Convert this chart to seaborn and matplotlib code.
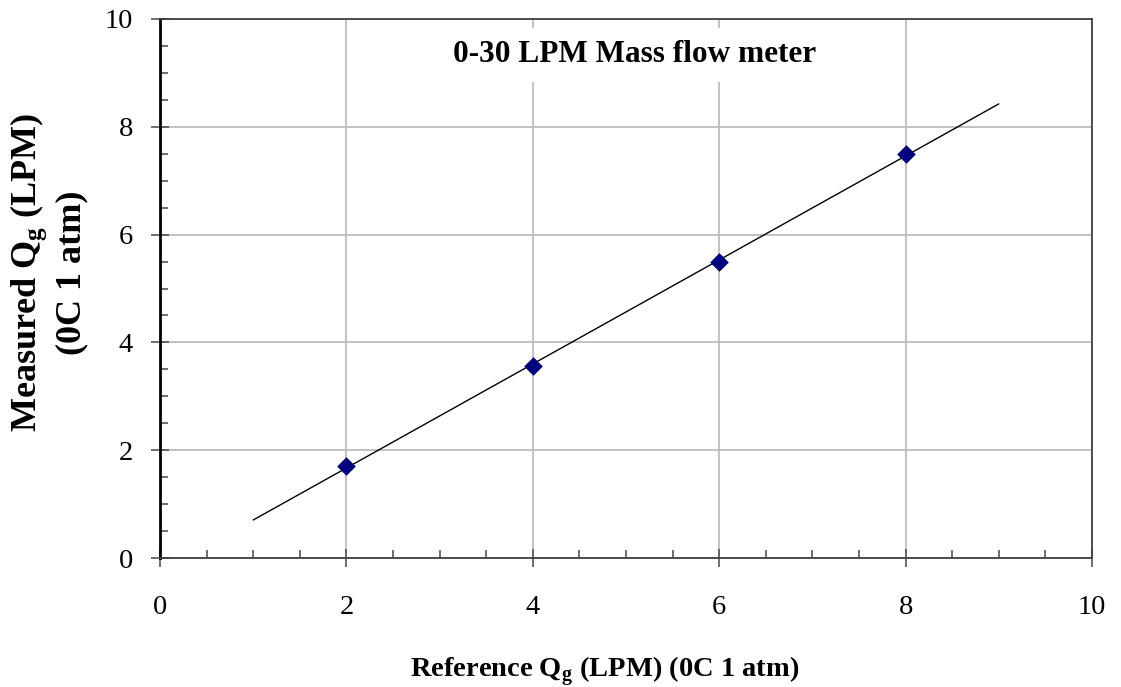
import numpy as np
import pandas as pd
import matplotlib
matplotlib.use("Agg")
import matplotlib.pyplot as plt
from matplotlib.ticker import MultipleLocator
import seaborn as sns

# Data
ref_qg = [2, 4, 6, 8]
measured_qg = [1.71, 3.56, 5.49, 7.50]
fit_range = [1, 9]
title = "0-30 LPM Mass flow meter"
xlabel = r"Reference Q$_{\mathregular{g}}$ (LPM) (0C 1 atm)"
ylabel = "Measured Q$_{\\mathregular{g}}$ (LPM)\n(0C 1 atm)"

sns.set_theme(style="white")
plt.rcParams['font.family'] = ['Liberation Serif', 'DejaVu Serif']
plt.rcParams['mathtext.fontset'] = 'custom'
plt.rcParams['mathtext.rm'] = 'Liberation Serif:bold'
plt.rcParams['mathtext.bf'] = 'Liberation Serif:bold'
plt.rcParams['text.color'] = 'black'
plt.rcParams['axes.labelcolor'] = 'black'

fig = plt.figure(figsize=(11.21, 6.87), dpi=100)
ax = fig.add_axes([160/1121, 1-558/687, (1092-160)/1121, (558-19)/687])

df = pd.DataFrame({"x": ref_qg, "y": measured_qg})
slope, intercept = np.polyfit(ref_qg, measured_qg, 1)
fx = np.array(fit_range, dtype=float)
fit_df = pd.DataFrame({"x": fx, "y": slope * fx + intercept})

sns.lineplot(data=fit_df, x="x", y="y", ax=ax, color="black", linewidth=1.0, zorder=3)
sns.scatterplot(data=df, x="x", y="y", ax=ax, marker="D", s=80, color="#000080",
                edgecolor="#000080", linewidth=0.5, zorder=4)

ax.set_xlim(0, 10)
ax.set_ylim(0, 10)
ax.xaxis.set_major_locator(MultipleLocator(2))
ax.yaxis.set_major_locator(MultipleLocator(2))
ax.xaxis.set_minor_locator(MultipleLocator(0.5))
ax.yaxis.set_minor_locator(MultipleLocator(0.5))

ax.grid(True, which="major", color="#bdbdbd", linewidth=1.3)
ax.set_axisbelow(True)

ax.tick_params(which="major", direction="inout", length=13, width=1.2, color="#555555",
               labelsize=20.5, labelcolor="black", bottom=True, left=True)
ax.tick_params(axis="x", which="major", pad=20)
ax.tick_params(axis="y", which="major", pad=13)
ax.tick_params(which="minor", direction="in", length=6, width=1.2, color="#555555",
               bottom=True, left=True)

for side in ["top", "right", "bottom"]:
    ax.spines[side].set_color("#404040")
    ax.spines[side].set_linewidth(1.3)
ax.spines["left"].set_color("black")
ax.spines["left"].set_linewidth(2.0)

ax.set_xlabel(xlabel, fontsize=20.5, fontweight="bold")
ax.xaxis.set_label_coords(0.477, -0.178)
ax.set_ylabel(ylabel, fontsize=26, fontweight="bold", linespacing=1.25)
ax.yaxis.set_label_coords(-0.077, 0.53)

ax.text(5.09, 9.34, title, fontsize=22.5, fontweight="bold", ha="center", va="center",
        bbox=dict(facecolor="white", edgecolor="none", pad=9), zorder=5)

fig.savefig("out.png", dpi=100)
